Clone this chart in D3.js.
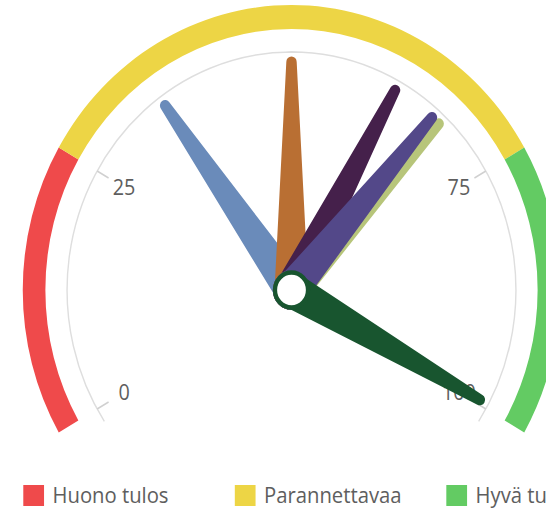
<!DOCTYPE html>
<html>
<head>
<meta charset="utf-8">
<script src="https://cdn.jsdelivr.net/npm/d3@7"></script>
<style>
	html, body { margin: 0; padding: 0; background: #fff; }
	svg { display: block; }
	text { font-family: 'Open Sans', 'Noto Sans', sans-serif; }
</style>
</head>
<body>
<div id="chart"></div>
<script>
// Data ------------------------------------------------------------------
var bandNames = ['Huono tulos', 'Parannettavaa', 'Hyvä tulos'];
var bandStarts = [0, 25, 75];
var bandEnds = [25, 75, 100];
var tickValues = [0, 25, 75, 100];
var handValues = [35, 50, 62, 68, 67, 99.5];

// Style -----------------------------------------------------------------
var bandColors = ['#ef4a4b', '#edd545', '#63cb63'];
var handColors = ['#6a8bba', '#b96f33', '#45204b', '#b7c57a', '#534889', '#18552f'];

var W = 546, H = 509;
var SX = 0.943; //picture is squeezed horizontally
var CX = 291.5, CY = 290;

var svg = d3.select('#chart').append('svg')
	.attr('width', W)
	.attr('height', H);

var angle = d3.scaleLinear().domain([0, 100]).range([-120, 120]);
var rad = function (v) { return angle(v) * Math.PI / 180; };

var gauge = svg.append('g')
	.attr('transform', 'translate(' + CX + ',' + CY + ') scale(' + SX + ',1)');

//colored bands
var band = d3.arc().innerRadius(261).outerRadius(285);
gauge.append('g').selectAll('path')
	.data(bandNames)
	.enter()
	.append('path')
	.attr('d', function (d, i) {
		return band({ startAngle: rad(bandStarts[i]), endAngle: rad(bandEnds[i]) });
	})
	.style('fill', function (d, i) { return bandColors[i]; });

//axis line
var axisArc = d3.arc().innerRadius(238).outerRadius(238);
gauge.append('path')
	.attr('d', axisArc({ startAngle: -123.5 * Math.PI / 180, endAngle: 123.5 * Math.PI / 180 }))
	.style('fill', 'none')
	.style('stroke', '#dedede')
	.style('stroke-width', 1.5);

//ticks and labels
var ticks = gauge.append('g');
ticks.selectAll('line')
	.data(tickValues)
	.enter()
	.append('line')
	.attr('x1', 0).attr('y1', -238)
	.attr('x2', 0).attr('y2', -224)
	.attr('transform', function (d) { return 'rotate(' + angle(d) + ')'; })
	.style('stroke', '#d0d0d0')
	.style('stroke-width', 1.5);

ticks.selectAll('text')
	.data(tickValues)
	.enter()
	.append('text')
	.attr('x', function (d) { return Math.sin(rad(d)) * 205; })
	.attr('y', function (d) { return -Math.cos(rad(d)) * 205; })
	.attr('text-anchor', 'middle')
	.attr('dy', '0.36em')
	.style('font-size', '21px')
	.style('fill', '#5e5e5e')
	.text(function (d) { return d; });

//clock hands
var L = 228, w0 = 36, w1 = 11;
var handPath = 'M' + (-w0 / 2) + ',0 L' + (-w1 / 2) + ',' + (-L) +
	' A' + (w1 / 2) + ',' + (w1 / 2) + ' 0 0 1 ' + (w1 / 2) + ',' + (-L) +
	' L' + (w0 / 2) + ',0 Z';

var hands = gauge.append('g').selectAll('g')
	.data(handValues)
	.enter()
	.append('g');

hands.append('path')
	.attr('d', handPath)
	.attr('transform', function (d) { return 'rotate(' + angle(d) + ')'; })
	.style('fill', function (d, i) { return handColors[i]; });

hands.append('circle')
	.attr('r', 17.5)
	.style('fill', '#fff')
	.style('stroke', function (d, i) { return handColors[i]; })
	.style('stroke-width', 4.5);

//legend
var legend = svg.append('g')
	.attr('transform', 'scale(' + SX + ',1)');
var lx = d3.scaleLinear().domain([0, 1]).range([24.7, 249]);

var item = legend.selectAll('g')
	.data(bandNames)
	.enter()
	.append('g')
	.attr('transform', function (d, i) { return 'translate(' + lx(i) + ',485)'; });

item.append('rect')
	.attr('width', 22)
	.attr('height', 21)
	.style('fill', function (d, i) { return bandColors[i]; });

item.append('text')
	.attr('x', 31)
	.attr('y', 18)
	.style('font-size', '21.5px')
	.style('fill', '#5e5e5e')
	.text(function (d) { return d; });
</script>
</body>
</html>
